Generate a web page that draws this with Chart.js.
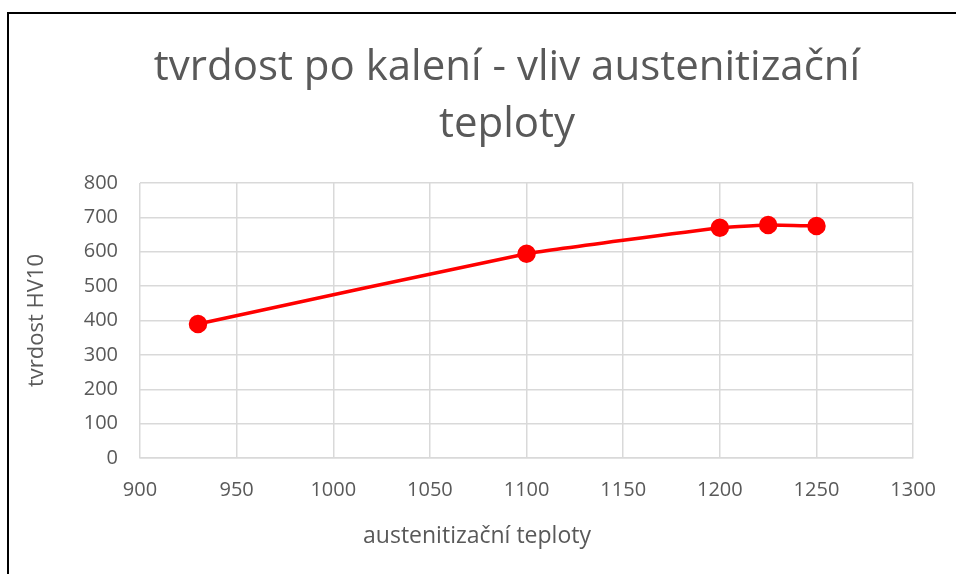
<!DOCTYPE html>
<html>
<head>
<meta charset="utf-8">
<title>tvrdost po kalení</title>
<script src="https://cdn.jsdelivr.net/npm/chart.js"></script>
<style>
  html, body { margin: 0; padding: 0; background: #fff; }
  #wrap { position: relative; width: 956px; height: 574px; overflow: hidden; }
  #frame { position: absolute; left: 7px; top: 12px; width: 1200px; height: 1200px;
           border-left: 2px solid #000; border-top: 2px solid #000; }
  #chart { position: absolute; left: 0; top: 0; }
</style>
</head>
<body>
<div id="wrap">
  <div id="frame"></div>
  <canvas id="chart" width="956" height="574"></canvas>
</div>
<script>
// data
const teploty = [930, 1100, 1200, 1225, 1250];
const tvrdost = [390, 594, 670, 678, 675];
const xTicks = [900, 950, 1000, 1050, 1100, 1150, 1200, 1250, 1300];
const yTicks = [0, 100, 200, 300, 400, 500, 600, 700, 800];

const nazev = ['tvrdost po kalení - vliv austenitizační', 'teploty'];
const osaX = 'austenitizační teploty';
const osaY = 'tvrdost HV10';

const sede = '#595959';
const mrizka = '#d9d9d9';
const pismo = '"Open Sans", sans-serif';

// nadpis a popis osy x kreslime sami, Excel je nema na stredu grafu
const popisky = {
  id: 'popisky',
  afterDraw(chart) {
    const c = chart.ctx;
    c.save();
    c.fillStyle = sede;
    c.textAlign = 'center';
    c.textBaseline = 'alphabetic';
    c.font = '42px ' + pismo;
    nazev.forEach((radek, i) => c.fillText(radek, 507, 80 + i * 57));
    c.font = '23px ' + pismo;
    c.fillText(osaX, 477, 543);
    c.restore();
  },
};

const ctx = document.getElementById('chart').getContext('2d');
new Chart(ctx, {
  type: 'scatter',
  data: {
    datasets: [{
      label: osaY,
      data: teploty.map((t, i) => ({ x: t, y: tvrdost[i] })),
      showLine: true,
      borderColor: '#ff0000',
      backgroundColor: '#ff0000',
      borderWidth: 3.5,
      pointRadius: 7.5,
      pointHoverRadius: 7.5,
      tension: 0.1,
    }],
  },
  plugins: [popisky],
  options: {
    responsive: false,
    animation: false,
    layout: { padding: { top: 183, left: 0, right: 42, bottom: 0 } },
    plugins: {
      legend: { display: false },
      tooltip: { enabled: false },
      title: { display: false },
    },
    scales: {
      x: {
        type: 'linear',
        min: xTicks[0],
        max: xTicks[xTicks.length - 1],
        afterBuildTicks: (axis) => { axis.ticks = xTicks.map(v => ({ value: v })); },
        afterFit: (axis) => { axis.height = 116; },
        grid: { color: mrizka, lineWidth: 1.5, drawTicks: false },
        border: { color: mrizka, width: 1.5 },
        ticks: { color: sede, font: { family: pismo, size: 20 }, padding: 20, maxRotation: 0,
                 callback: (v) => String(v) },
      },
      y: {
        type: 'linear',
        min: yTicks[0],
        max: yTicks[yTicks.length - 1],
        afterBuildTicks: (axis) => { axis.ticks = yTicks.map(v => ({ value: v })); },
        afterFit: (axis) => { axis.width = 140; },
        grid: { color: mrizka, lineWidth: 1.5, drawTicks: false },
        border: { display: false },
        ticks: { color: sede, font: { family: pismo, size: 20 }, padding: 22,
                 callback: (v) => String(v) },
        title: {
          display: true, text: osaY, color: sede,
          font: { family: pismo, size: 22 }, padding: { top: 24, bottom: 0 },
        },
      },
    },
  },
});
</script>
</body>
</html>
